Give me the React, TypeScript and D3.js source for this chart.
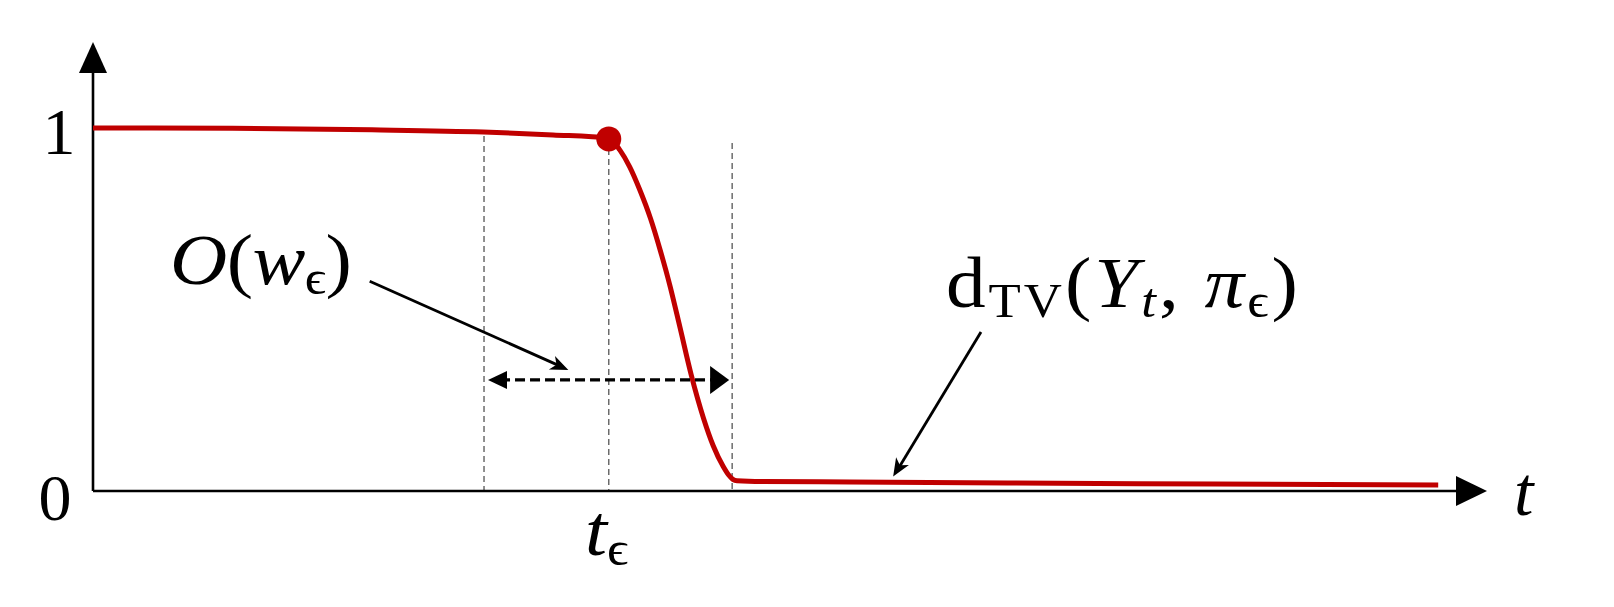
import React from 'react';
import * as d3 from 'd3';

// curve d_TV(Y_t, pi_eps) (t in arbitrary units, 0..100 along the axis)
const tValues = [0, 10, 20, 28, 33, 37, 37.8, 38.5, 39.2, 40.0, 40.7, 41.4, 42.1, 42.9, 43.8, 44.5, 45.2, 45.6, 45.9, 46.2, 48, 54.3, 75, 96.5];
const dtvValues = [1.0, 0.999, 0.995, 0.989, 0.981, 0.972, 0.939, 0.893, 0.832, 0.75, 0.662, 0.564, 0.452, 0.322, 0.2, 0.124, 0.068, 0.044, 0.032, 0.028, 0.026, 0.025, 0.02, 0.0165];

// dashed guides: left edge of window, t_eps, right edge of window
const guideT = [28.05, 37, 45.85];
const guideTop = [0.978, 0.97, 0.959];

const dotT = 37;
const dotV = 0.97;
const windowY = 0.306;

// annotation arrows [fromT, fromV, toT, toV]
const arrowO = [19.85, 0.578, 34.1, 0.333];
const arrowTV = [63.7, 0.438, 57.4, 0.04];

const yTickLabels = ['0', '1'];

const W = 1614;
const H = 607;
const RED = '#c00000';
const FONT = '"Liberation Serif", "DejaVu Serif", serif';

function head(tipX: number, tipY: number, fromX: number, fromY: number, len: number, half: number, notch = 0) {
  const a = Math.atan2(tipY - fromY, tipX - fromX);
  const c = Math.cos(a), s = Math.sin(a);
  const bx = tipX - len * c, by = tipY - len * s;
  const nx = tipX - (len - notch) * c, ny = tipY - (len - notch) * s;
  return `M${tipX},${tipY}L${bx - half * s},${by + half * c}L${nx},${ny}L${bx + half * s},${by - half * c}Z`;
}

export default function App() {
  const x = d3.scaleLinear().domain([0, 100]).range([93, 1487]);
  const y = d3.scaleLinear().domain([0, 1]).range([491, 128]);
  const data = tValues.map((t, i) => [t, dtvValues[i]] as [number, number]);
  const line = d3.line<[number, number]>()
    .x(d => x(d[0]))
    .y(d => y(d[1]))
    .curve(d3.curveMonotoneX);

  const x0 = x(0), y0 = y(0);
  const yTop = 42;
  const ax0 = x(arrowO[0]), ay0 = y(arrowO[1]), ax1 = x(arrowO[2]), ay1 = y(arrowO[3]);
  const bx0 = x(arrowTV[0]), by0 = y(arrowTV[1]), bx1 = x(arrowTV[2]), by1 = y(arrowTV[3]);
  const wl = x(guideT[0]) + 4, wr = x(guideT[2]) - 3, wy = y(windowY);
  const sx = 1.1;

  return (
    <svg width={W} height={H} style={{ position: 'absolute', left: 0, top: 0, background: '#fff' }}
      fontFamily={FONT}>
      {/* dashed guides */}
      {guideT.map((t, i) => (
        <line key={i} x1={x(t)} x2={x(t)} y1={y(guideTop[i])} y2={y0}
          stroke="#555" strokeWidth={1.3} strokeDasharray="6,4" />
      ))}

      {/* axes */}
      <line x1={x0} x2={x0} y1={y0} y2={yTop + 20} stroke="#000" strokeWidth={2.6} />
      <path d={head(x0, yTop, x0, y0, 31, 14)} fill="#000" />
      <line x1={x0} x2={x(100) - 20} y1={y0} y2={y0} stroke="#000" strokeWidth={2.6} />
      <path d={head(x(100), y0, x0, y0, 31, 15)} fill="#000" />

      {/* curve */}
      <path d={line(data) || ''} fill="none" stroke={RED} strokeWidth={5} strokeLinejoin="round" />
      <circle cx={x(dotT)} cy={y(dotV)} r={12.5} fill={RED} />

      {/* window double arrow */}
      <line x1={wl + 12} x2={wr - 12} y1={wy} y2={wy} stroke="#000" strokeWidth={3.2} strokeDasharray="10,5" />
      <path d={head(wl, wy, wr, wy, 19, 9)} fill="#000" />
      <path d={head(wr, wy, wl, wy, 19, 14)} fill="#000" />

      {/* annotation arrows */}
      <line x1={ax0} y1={ay0} x2={ax1 - 6} y2={ay1 - 3} stroke="#000" strokeWidth={2.8} />
      <path d={head(ax1, ay1, ax0, ay0, 18, 7.5, 5)} fill="#000" />
      <line x1={bx0} y1={by0} x2={bx1 + 4} y2={by1 - 6} stroke="#000" strokeWidth={2.8} />
      <path d={head(bx1, by1, bx0, by0, 18, 7.5, 5)} fill="#000" />

      {/* tick labels */}
      <text x={x0 - 38} y={y0 + 29} fontSize={66} textAnchor="middle">{yTickLabels[0]}</text>
      <text x={x0 - 34} y={y(1) + 26} fontSize={66} textAnchor="middle">{yTickLabels[1]}</text>

      {/* axis label */}
      <text x={1514} y={515} fontSize={70} fontStyle="italic">t</text>

      {/* t_eps */}
      <text transform={`translate(585,555) scale(${sx},1)`} fontSize={72}>
        <tspan fontStyle="italic">t</tspan>
        <tspan fontSize={48} dy={10}>ϵ</tspan>
      </text>

      {/* O(w_eps) */}
      <text transform={`translate(170,284) scale(${sx},1)`} fontSize={72} textLength={182 / sx} lengthAdjust="spacing">
        <tspan fontStyle="italic">O</tspan>
        <tspan>(</tspan>
        <tspan fontStyle="italic">w</tspan>
        <tspan fontSize={48} dy={10}>ϵ</tspan>
        <tspan dy={-10}>)</tspan>
      </text>

      {/* d_TV(Y_t, pi_eps) */}
      <text transform={`translate(946,307) scale(${sx},1)`} fontSize={72} textLength={352 / sx} lengthAdjust="spacing">
        <tspan>d</tspan>
        <tspan fontSize={48} dy={10}>TV</tspan>
        <tspan dy={-10}>(</tspan>
        <tspan fontStyle="italic">Y</tspan>
        <tspan fontSize={48} fontStyle="italic" dy={10}>t</tspan>
        <tspan dy={-10}>, </tspan>
        <tspan fontStyle="italic">π</tspan>
        <tspan fontSize={48} dy={10}>ϵ</tspan>
        <tspan dy={-10}>)</tspan>
      </text>
    </svg>
  );
}
